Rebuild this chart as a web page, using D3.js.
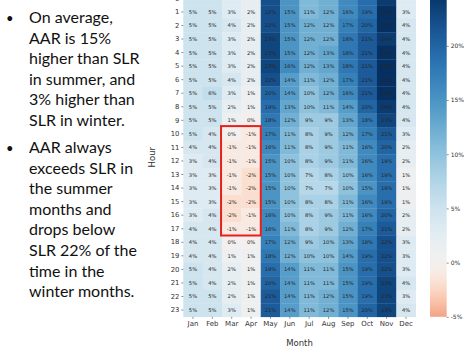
<!DOCTYPE html>
<html>
<head>
<meta charset="utf-8">
<script src="https://cdn.jsdelivr.net/npm/d3@7"></script>
<style>
  html, body { margin: 0; padding: 0; background: #fff; }
  svg { display: block; }
</style>
</head>
<body>
<svg id="chart" width="464" height="349"></svg>
<script>
// Hourly AAR vs SLR difference (%) by month
const months = ["Jan", "Feb", "Mar", "Apr", "May", "Jun", "Jul", "Aug", "Sep", "Oct", "Nov", "Dec"];
const hours = [0, 1, 2, 3, 4, 5, 6, 7, 8, 9, 10, 11, 12, 13, 14, 15, 16, 17, 18, 19, 20, 21, 22, 23];
// one row per hour, one column per month
const pctDiff = [
  [5, 5, 3, 2, 22, 15, 11, 12, 16, 19, 24, 3],
  [5, 5, 3, 2, 22, 15, 11, 12, 16, 19, 25, 3],
  [5, 5, 4, 2, 22, 15, 12, 12, 17, 20, 25, 4],
  [5, 5, 3, 2, 23, 15, 12, 12, 18, 21, 24, 4],
  [5, 5, 3, 2, 23, 15, 12, 13, 18, 21, 25, 4],
  [5, 5, 3, 2, 23, 16, 12, 13, 18, 21, 25, 4],
  [5, 5, 4, 2, 22, 14, 11, 12, 17, 21, 25, 4],
  [5, 6, 3, 1, 20, 14, 10, 12, 16, 21, 25, 4],
  [5, 5, 2, 1, 19, 13, 10, 11, 14, 20, 24, 4],
  [5, 5, 1, 0, 18, 12, 9, 9, 13, 18, 23, 4],
  [5, 4, 0, -1, 17, 11, 8, 9, 12, 17, 21, 3],
  [4, 4, -1, -1, 16, 11, 8, 9, 11, 16, 20, 2],
  [3, 4, -1, -1, 15, 10, 8, 9, 11, 16, 19, 2],
  [3, 3, -1, -2, 15, 10, 7, 8, 10, 16, 19, 1],
  [3, 3, -1, -2, 15, 10, 7, 7, 10, 15, 19, 1],
  [3, 3, -2, -2, 15, 10, 8, 8, 11, 16, 19, 1],
  [3, 4, -2, -1, 16, 10, 8, 9, 11, 16, 20, 2],
  [4, 4, -1, -1, 16, 11, 8, 9, 12, 17, 21, 2],
  [4, 4, 0, 0, 17, 12, 9, 10, 13, 18, 22, 3],
  [4, 4, 1, 1, 18, 12, 10, 10, 14, 19, 22, 3],
  [5, 4, 2, 1, 19, 14, 11, 11, 15, 19, 22, 3],
  [5, 4, 2, 1, 20, 14, 11, 11, 15, 19, 23, 4],
  [5, 5, 2, 1, 21, 14, 11, 12, 15, 19, 23, 3],
  [5, 5, 3, 1, 21, 14, 11, 12, 15, 20, 23, 4]
];
const colorTicks = [-5, 0, 5, 10, 15, 20];
const colorDomain = [-5, 0, 25];
// block of hours/months where AAR drops below SLR
const boxMonths = ["Mar", "Apr"];
const boxHours = [10, 17];

const bullets = [
  ["On average,", "AAR is 15%", "higher than SLR", "in summer, and", "3% higher than", "SLR in winter."],
  ["AAR always", "exceeds SLR in", "the summer", "months and", "drops below", "SLR 22% of the", "time in the", "winter months."]
];

const svg = d3.select("#chart");
const heat = { left: 183.3, right: 415.7, top: -8.4, bottom: 316.8 };

const x = d3.scaleBand().domain(months).range([heat.left, heat.right]);
const y = d3.scaleBand().domain(hours).range([heat.top, heat.bottom]);

const color = d3.scaleDiverging()
  .domain(colorDomain)
  .interpolator(t => d3.interpolateRdBu(t < 0.5 ? 0.3 + 0.4 * t : t))
  .clamp(true);

const cells = [];
pctDiff.forEach((row, i) => row.forEach((v, j) => cells.push({ hour: hours[i], month: months[j], v })));

const g = svg.append("g");
g.selectAll("rect.cell").data(cells).join("rect")
  .attr("class", "cell")
  .attr("x", d => x(d.month))
  .attr("y", d => y(d.hour))
  .attr("width", x.bandwidth() + 0.3)
  .attr("height", y.bandwidth() + 0.3)
  .attr("fill", d => color(d.v));

g.selectAll("text.val").data(cells).join("text")
  .attr("class", "val")
  .attr("x", d => x(d.month) + x.bandwidth() / 2)
  .attr("y", d => y(d.hour) + y.bandwidth() / 2)
  .attr("text-anchor", "middle")
  .attr("dominant-baseline", "central")
  .attr("font-family", "DejaVu Sans")
  .attr("font-size", 5.2)
  .attr("fill", "#262626")
  .text(d => d.v + "%");

// highlight box
g.append("rect")
  .attr("x", x(boxMonths[0]) - 1)
  .attr("y", y(boxHours[0]) - 1)
  .attr("width", x(boxMonths[1]) + x.bandwidth() - x(boxMonths[0]) + 1)
  .attr("height", y(boxHours[1]) + y.bandwidth() - y(boxHours[0]) + 1)
  .attr("fill", "none")
  .attr("stroke", "#e8201c")
  .attr("stroke-width", 2);

// axes
const xAxis = d3.axisBottom(x).tickSize(2).tickPadding(2);
const yAxis = d3.axisLeft(y).tickSize(2).tickPadding(2);

const gx = svg.append("g").attr("transform", `translate(0,${heat.bottom})`).call(xAxis);
const gy = svg.append("g").attr("transform", `translate(${heat.left},0)`).call(yAxis);
[gx, gy].forEach(a => {
  a.select(".domain").remove();
  a.selectAll(".tick line").attr("stroke", "#444").attr("stroke-width", 0.6);
  a.selectAll(".tick text").attr("font-family", "DejaVu Sans").attr("fill", "#333");
});
gx.selectAll(".tick text").attr("font-size", 7);
gy.selectAll(".tick text").attr("font-size", 6.8);

svg.append("text")
  .attr("x", (heat.left + heat.right) / 2)
  .attr("y", 346)
  .attr("text-anchor", "middle")
  .attr("font-family", "DejaVu Sans")
  .attr("font-size", 8.5)
  .attr("fill", "#333")
  .text("Month");

svg.append("text")
  .attr("transform", `translate(155,${(heat.top + heat.bottom) / 2 + 3}) rotate(-90)`)
  .attr("text-anchor", "middle")
  .attr("font-family", "DejaVu Sans")
  .attr("font-size", 8.5)
  .attr("fill", "#333")
  .text("Hour");

// colour bar
const cb = { x: 430, w: 16.7 };
const cbScale = d3.scaleLinear().domain([colorDomain[0], colorDomain[2]]).range([heat.bottom, heat.top]);
const defs = svg.append("defs");
const grad = defs.append("linearGradient").attr("id", "cbGrad")
  .attr("x1", 0).attr("y1", 1).attr("x2", 0).attr("y2", 0);
d3.range(0, 1.0001, 0.02).forEach(f => {
  const v = colorDomain[0] + f * (colorDomain[2] - colorDomain[0]);
  grad.append("stop").attr("offset", f).attr("stop-color", color(v));
});
svg.append("rect")
  .attr("x", cb.x)
  .attr("y", cbScale(colorDomain[2]))
  .attr("width", cb.w)
  .attr("height", cbScale(colorDomain[0]) - cbScale(colorDomain[2]))
  .attr("fill", "url(#cbGrad)");

const cAxis = d3.axisRight(cbScale).tickValues(colorTicks).tickSize(2).tickPadding(2)
  .tickFormat(d => d + "%");
const gc = svg.append("g").attr("transform", `translate(${cb.x + cb.w},0)`).call(cAxis);
gc.select(".domain").remove();
gc.selectAll(".tick line").attr("stroke", "#444").attr("stroke-width", 0.6);
gc.selectAll(".tick text").attr("font-family", "DejaVu Sans").attr("font-size", 6).attr("fill", "#333");

// bullet notes
const notes = svg.append("g").attr("font-family", "Lato, Carlito, sans-serif").attr("font-size", 16).attr("fill", "#111");
const lineH = 20.6;
const starts = [23, 153];
bullets.forEach((lines, b) => {
  notes.append("text")
    .attr("x", 6)
    .attr("y", starts[b])
    .attr("font-size", 13)
    .text("•");
  lines.forEach((ln, i) => {
    notes.append("text")
      .attr("x", 29)
      .attr("y", starts[b] + i * lineH)
      .text(ln);
  });
});
</script>
</body>
</html>
